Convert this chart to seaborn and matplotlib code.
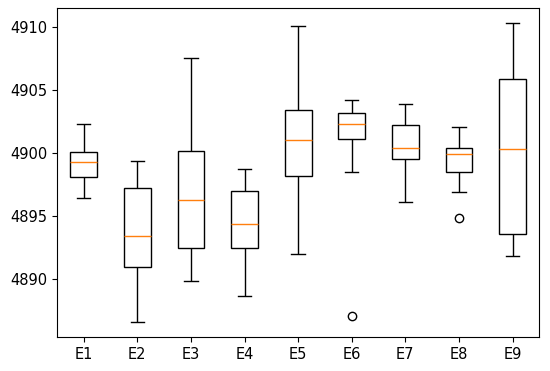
import pandas as pd
import matplotlib
matplotlib.use('Agg')
import matplotlib.pyplot as plt
import seaborn as sns

# observations per group (9 points each -> quartiles at indices 2, 4, 6)
groups = ['E1', 'E2', 'E3', 'E4', 'E5', 'E6', 'E7', 'E8', 'E9']
e1 = [4896.4, 4897.5, 4898.1, 4898.8, 4899.3, 4899.7, 4900.1, 4901.0, 4902.3]
e2 = [4886.6, 4889.0, 4891.0, 4892.2, 4893.4, 4895.5, 4897.25, 4898.5, 4899.4]
e3 = [4889.85, 4891.0, 4892.5, 4894.5, 4896.3, 4898.0, 4900.2, 4904.0, 4907.55]
e4 = [4888.65, 4890.5, 4892.5, 4893.5, 4894.4, 4895.8, 4897.0, 4898.0, 4898.7]
e5 = [4892.0, 4895.0, 4898.2, 4899.5, 4901.0, 4902.2, 4903.4, 4906.0, 4910.1]
e6 = [4887.1, 4898.5, 4901.1, 4901.7, 4902.3, 4902.8, 4903.2, 4903.7, 4904.2]
e7 = [4896.1, 4898.0, 4899.5, 4900.0, 4900.4, 4901.3, 4902.2, 4903.0, 4903.85]
e8 = [4894.85, 4896.9, 4898.5, 4899.2, 4899.9, 4900.1, 4900.4, 4901.2, 4902.05]
e9 = [4891.8, 4892.7, 4893.55, 4897.0, 4900.3, 4903.0, 4905.9, 4908.0, 4910.3]
values = [e1, e2, e3, e4, e5, e6, e7, e8, e9]

df = pd.DataFrame({
    'group': [g for g, v in zip(groups, values) for _ in v],
    'value': [x for v in values for x in v],
})

fig = plt.figure(figsize=(5.5, 3.71), dpi=100)
ax = fig.add_axes([0.1036, 0.0916, 0.877, 0.8864])

sns.boxplot(data=df, x='group', y='value', ax=ax, width=0.5,
            color='white', linecolor='black', linewidth=1,
            medianprops={'color': '#ff7f0e'},
            flierprops={'marker': 'o', 'markerfacecolor': 'none',
                        'markeredgecolor': 'black', 'markersize': 6})

ax.set_xlabel('')
ax.set_ylabel('')
ax.tick_params(labelsize=10.5)
for s in ax.spines.values():
    s.set_visible(True)
    s.set_color('black')

fig.savefig('out.png', dpi=100)
